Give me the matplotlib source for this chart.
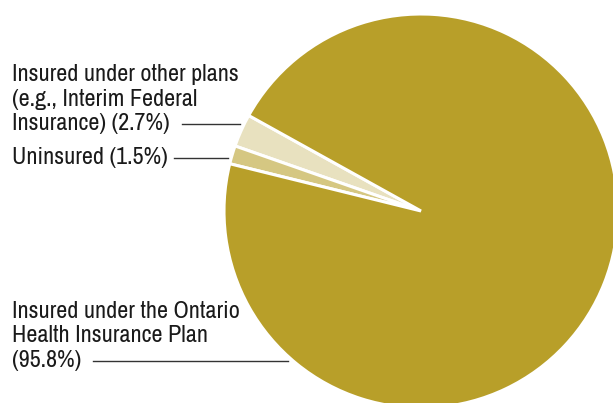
import matplotlib
matplotlib.use('Agg')
import matplotlib.pyplot as plt
from matplotlib import font_manager

# Data
labels = ['Insured under other plans\n(e.g., Interim Federal\nInsurance) (2.7%)',
          'Uninsured (1.5%)',
          'Insured under the Ontario\nHealth Insurance Plan\n(95.8%)']
shares = [2.7, 1.5, 95.8]
colors = ['#e8e1bf', '#d5c782', '#b89f29']

# pick a narrow sans if one is installed
names = {f.name for f in font_manager.fontManager.ttflist}
narrow = [n for n in names if 'Narrow' in n or 'Condensed' in n]
if narrow:
    family, stretch = sorted(narrow)[0], 'normal'
else:
    family, stretch = 'DejaVu Sans', 'condensed'

W, H = 613, 403
fig = plt.figure(figsize=(W / 100, H / 100), dpi=100)
ax = fig.add_axes([0, 0, 1, 1])

# pie in pixel coordinates (y measured upwards)
ax.pie(shares, colors=colors, startangle=151, counterclock=True,
       center=(421, H - 211), radius=197, frame=True,
       wedgeprops={'edgecolor': 'white', 'linewidth': 2.2})
ax.set_xlim(0, W)
ax.set_ylim(0, H)
ax.set_aspect('auto')
ax.axis('off')

font = {'family': [family, 'DejaVu Sans'], 'fontstretch': stretch,
        'size': 14.5, 'color': '#1a1a1a'}

# label text (x, center y in px) and leader line (x0, x1, y in px)
label_pos = [(12, 99), (12, 158), (12, 336)]
leaders = [(182, 240, 124), (174, 228, 158), (93, 288, 361)]

texts = []
for text, (tx, ty) in zip(labels, label_pos):
    texts.append(ax.text(tx, H - ty, text, ha='left', va='center', **font))

# fit font size so the first label matches the reference width (~226 px)
fig.canvas.draw()
w = texts[0].get_window_extent().width
size = 14.5 * 226 / w
for t in texts:
    t.set_fontsize(size)
    t.set_linespacing(1.25 * 17.0 / size)

for x0, x1, y in leaders:
    ax.plot([x0, x1], [H - y, H - y], color='#333333', linewidth=1)

fig.savefig('out.png', dpi=100)
